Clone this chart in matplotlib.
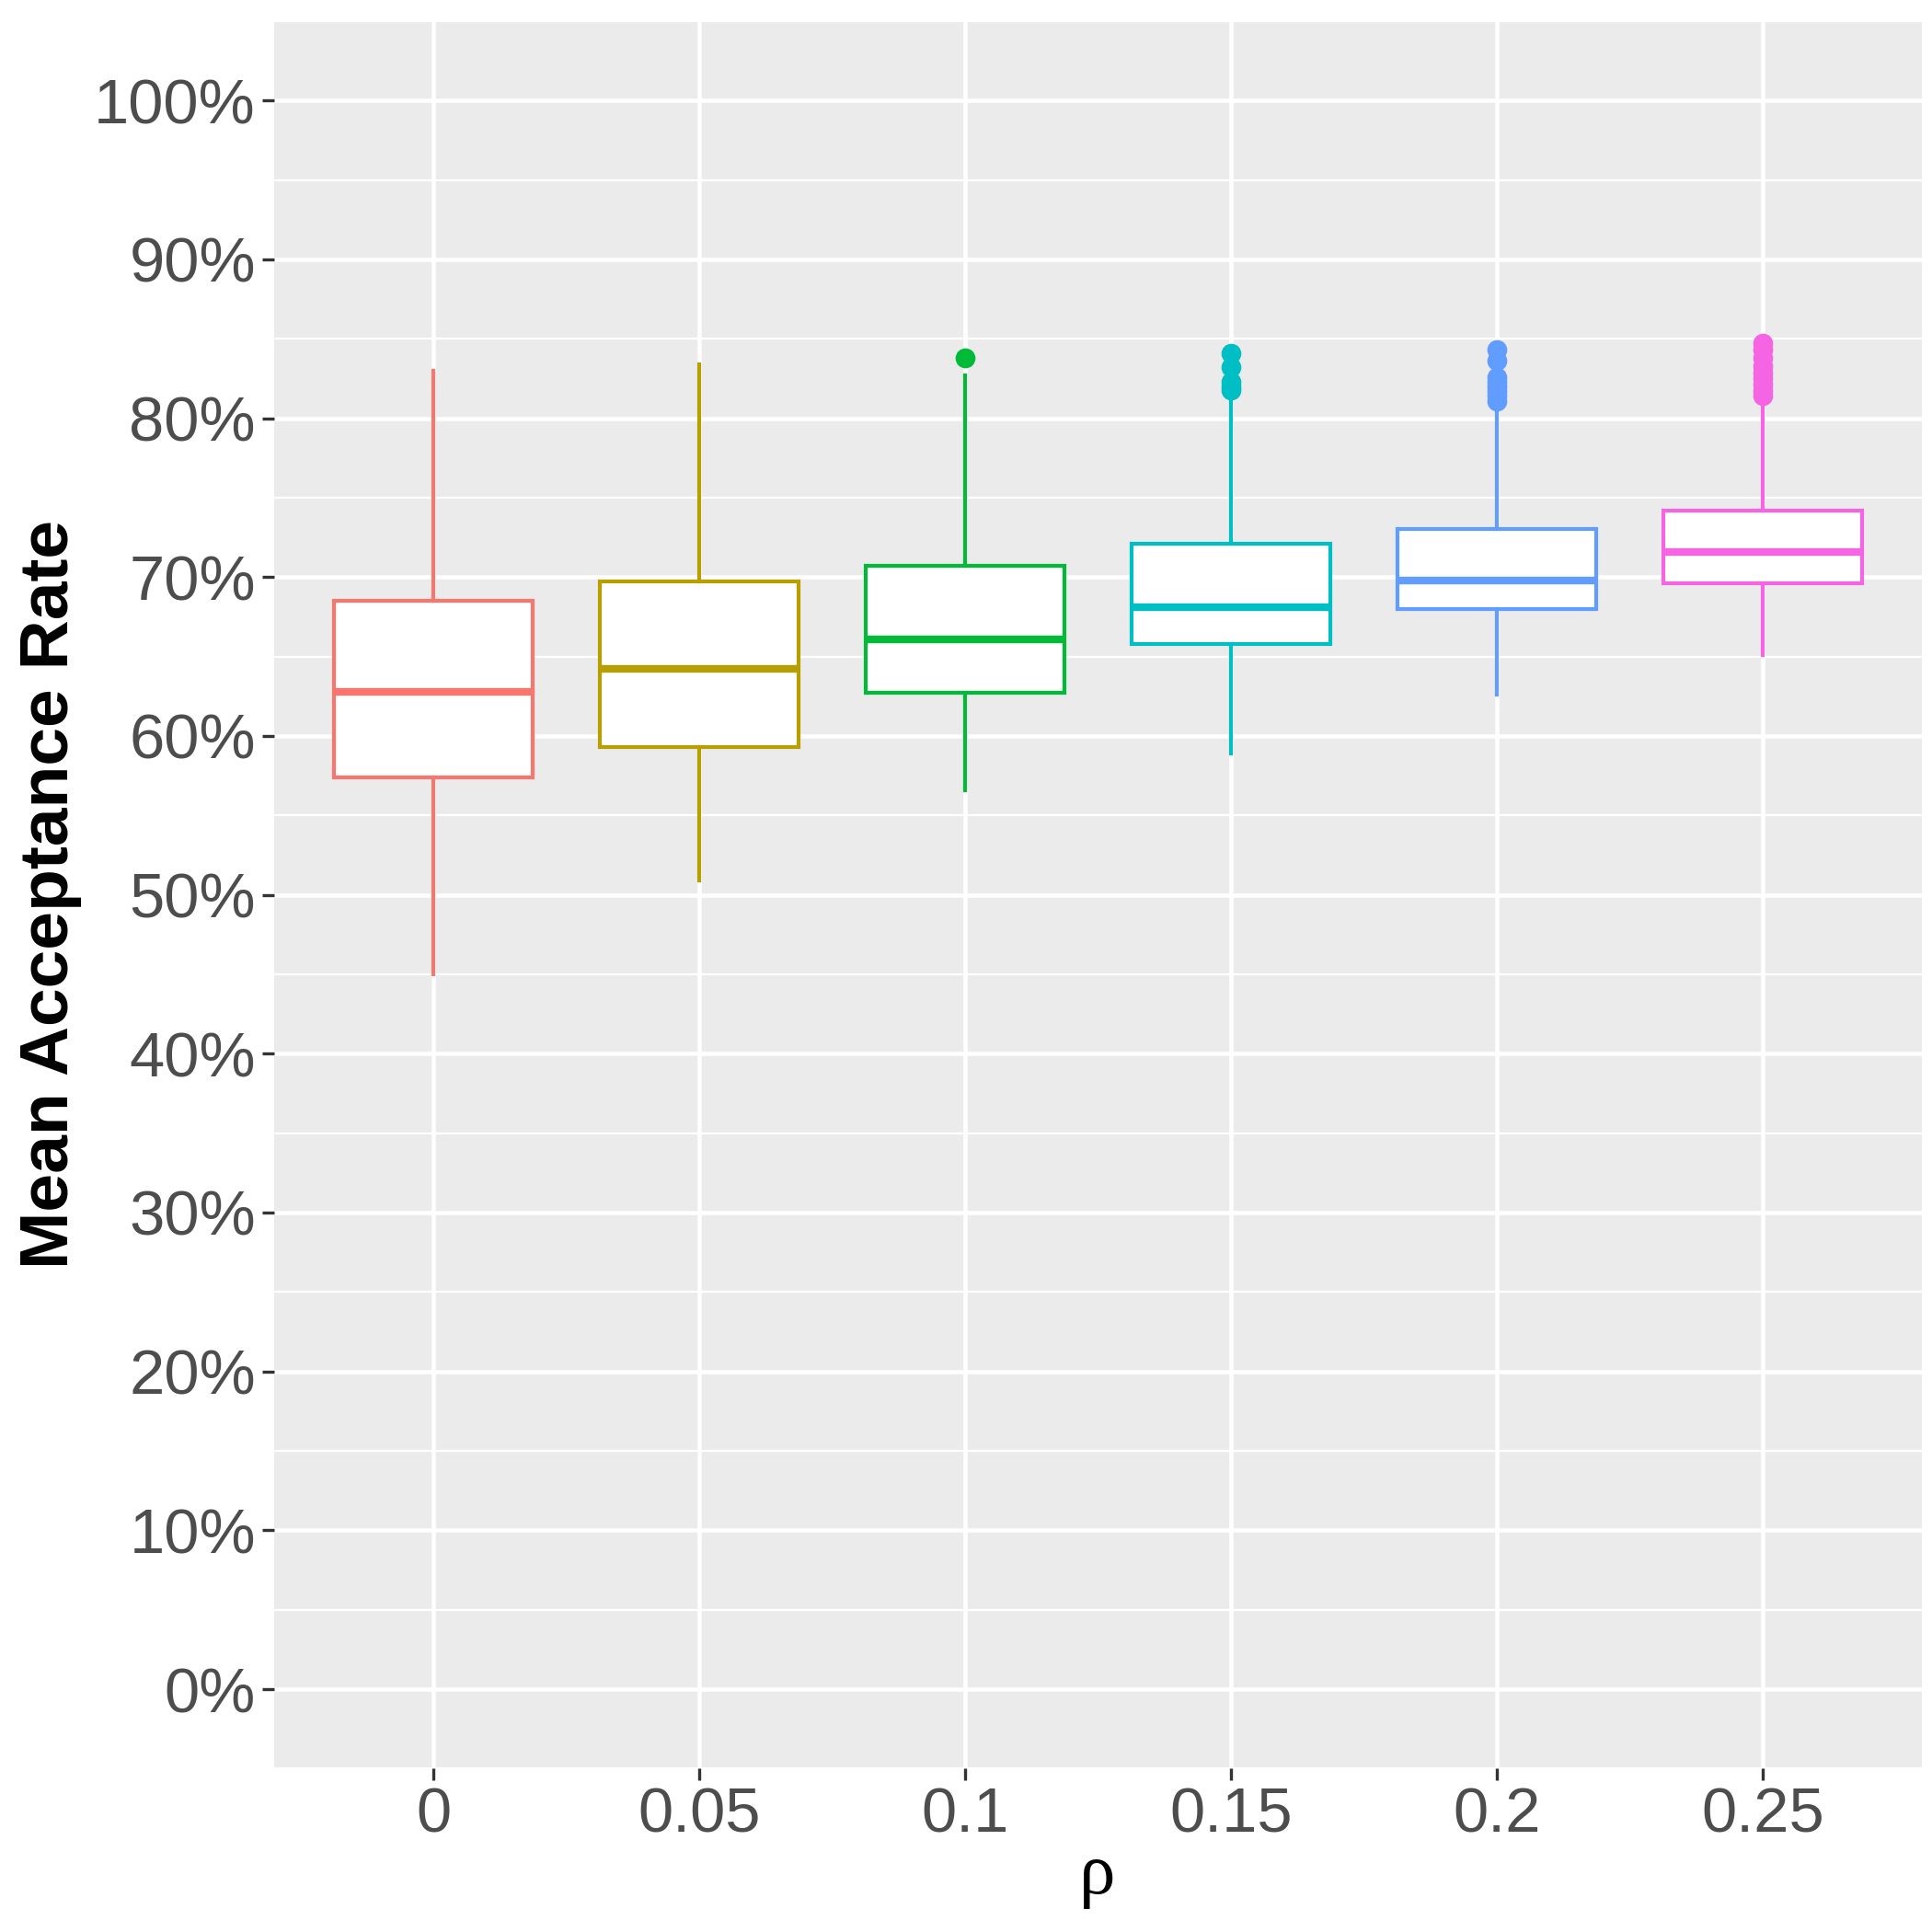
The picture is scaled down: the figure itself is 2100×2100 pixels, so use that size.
import matplotlib
matplotlib.use("Agg")
import matplotlib.pyplot as plt
from matplotlib.ticker import MultipleLocator, FuncFormatter

# box summaries (percent)
rho = ["0", "0.05", "0.1", "0.15", "0.2", "0.25"]
whislo = [45.0, 50.9, 56.6, 58.9, 62.6, 65.1]
q1 = [57.4, 59.3, 62.7, 65.8, 68.0, 69.6]
med = [62.8, 64.2, 66.1, 68.1, 69.8, 71.6]
q3 = [68.5, 69.7, 70.7, 72.1, 73.0, 74.2]
whishi = [83.0, 83.4, 82.7, 81.3, 80.4, 80.8]
outliers = [
    [],
    [],
    [83.8],
    [84.1, 83.2, 82.3, 82.0, 81.8],
    [84.3, 83.6, 82.6, 82.3, 82.0, 81.7, 81.4, 81.1],
    [84.7, 84.3, 83.8, 83.3, 82.9, 82.5, 82.1, 81.7, 81.4],
]
colors = ["#F8766D", "#B79F00", "#00BA38", "#00BFC4", "#619CFF", "#F564E3"]

fig = plt.figure(figsize=(7, 7), dpi=300)
ax = fig.add_axes([0.1417, 0.0846, 0.8532, 0.9045])
ax.set_facecolor("#EBEBEB")
for s in ax.spines.values():
    s.set_visible(False)

ax.set_ylim(-5, 105)
ax.set_xlim(0.4, 6.6)
ax.yaxis.set_major_locator(MultipleLocator(10))
ax.yaxis.set_minor_locator(MultipleLocator(5))
ax.yaxis.set_major_formatter(FuncFormatter(lambda v, p: "%d%%" % round(v)))
ax.grid(which="major", color="white", linewidth=1.1)
ax.grid(which="minor", axis="y", color="white", linewidth=0.55)
ax.set_axisbelow(True)
ax.tick_params(which="major", length=3.2, width=0.8, color="#333333",
               labelcolor="#4D4D4D", labelsize=16.5, pad=1.5)
ax.tick_params(which="minor", length=0)

for i in range(6):
    st = [dict(whislo=whislo[i], q1=q1[i], med=med[i], q3=q3[i],
               whishi=whishi[i], fliers=outliers[i])]
    c = colors[i]
    ax.bxp(st, positions=[i + 1], widths=0.75, showcaps=False,
           patch_artist=True,
           boxprops=dict(facecolor="white", edgecolor=c, linewidth=1.0),
           whiskerprops=dict(color=c, linewidth=1.0),
           medianprops=dict(color=c, linewidth=2.0, solid_capstyle="butt"),
           flierprops=dict(marker="o", markerfacecolor=c, markeredgecolor=c,
                           markersize=4.2, linestyle="none"))

ax.set_xticks(range(1, 7))
ax.set_xticklabels(rho, fontfamily="Liberation Sans")
for lab in ax.get_yticklabels():
    lab.set_fontfamily("Liberation Sans")

# axis titles placed on the figure
fig.text(0.026, 0.537, "Mean Acceptance Rate", rotation=90, ha="center",
         va="center", fontsize=18, fontweight="bold",
         fontfamily="Liberation Sans")
fig.text(0.568, 0.029, "ρ", ha="center", va="center", fontsize=19,
         fontfamily="Liberation Serif")

fig.savefig("out.png", dpi=300)
